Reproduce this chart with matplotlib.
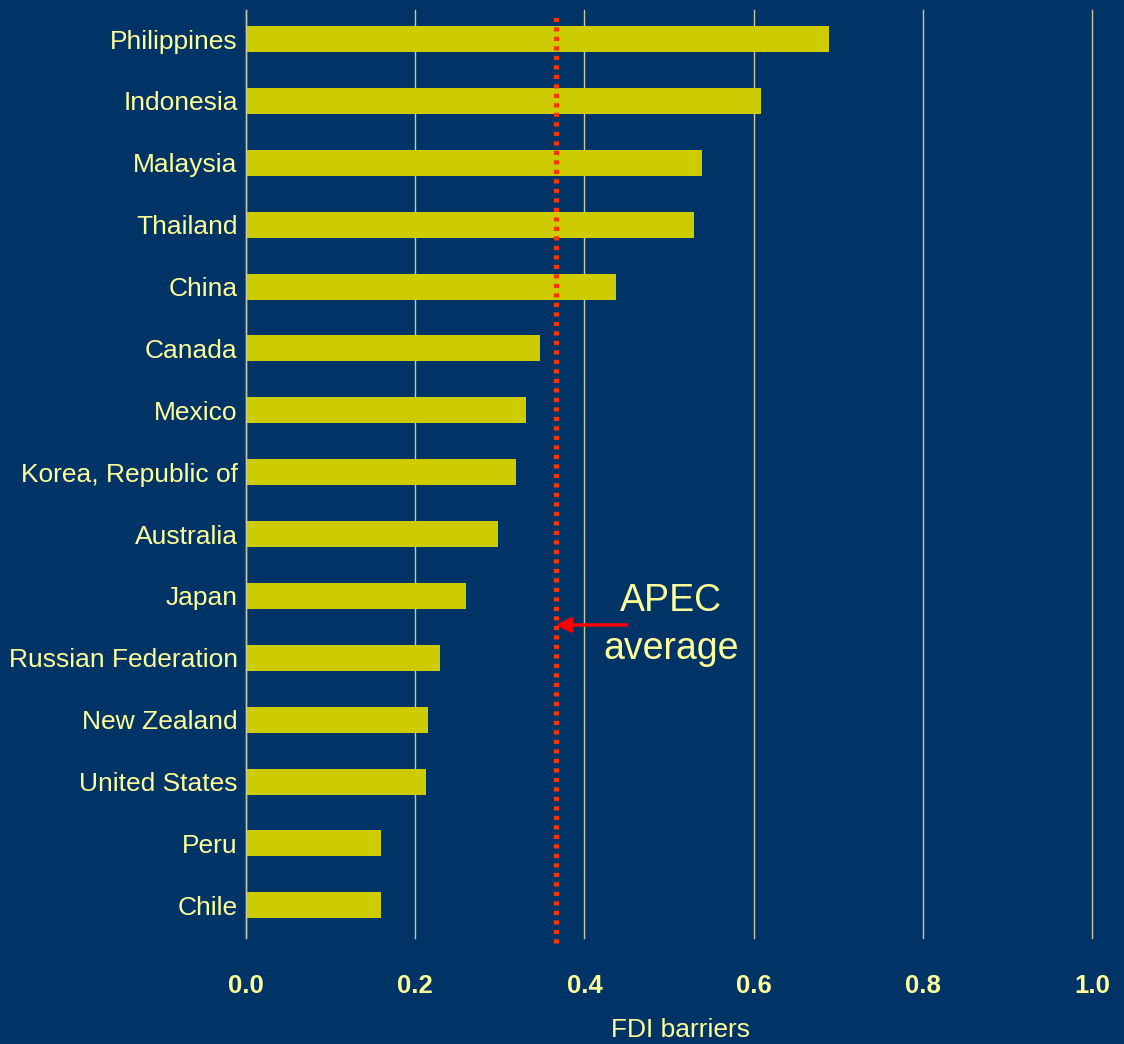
import numpy as np
import matplotlib.pyplot as plt

# FDI barrier index by APEC economy
countries = ["Philippines", "Indonesia", "Malaysia", "Thailand", "China",
             "Canada", "Mexico", "Korea, Republic of", "Australia", "Japan",
             "Russian Federation", "New Zealand", "United States", "Peru", "Chile"]
fdi_barriers = [0.689, 0.609, 0.539, 0.529, 0.437, 0.348, 0.331, 0.319,
                0.298, 0.260, 0.229, 0.215, 0.213, 0.160, 0.160]
apec_average = 0.366
xticks = [0.0, 0.2, 0.4, 0.6, 0.8, 1.0]

bg = '#003366'
bar_color = '#CCCC00'
text_color = '#FFFF99'
grid_color = '#C8C8A0'

plt.rcParams['font.family'] = ['Liberation Sans', 'DejaVu Sans']

fig = plt.figure(figsize=(11.24, 10.44), dpi=100, facecolor=bg)
ax = fig.add_axes([0.2189, 0.1015, 0.7526, 0.8889], facecolor=bg)

y = np.arange(len(countries))
ax.barh(y, fdi_barriers, height=0.42, color=bar_color, zorder=2)

ax.set_xlim(0, 1.0)
ax.set_ylim(len(countries) - 0.47, -0.47)

ax.set_xticks(xticks)
ax.set_xticklabels([f"{v:.1f}" for v in xticks], fontsize=18.5, fontweight='bold',
                   color=text_color)
ax.set_yticks(y)
ax.set_yticklabels(countries, fontsize=19, color=text_color)
ax.tick_params(axis='x', length=0, pad=26)
ax.tick_params(axis='y', length=0, pad=6)

# vertical gridlines
ax.grid(axis='x', color=grid_color, linewidth=1, zorder=1)
for gl in ax.get_xgridlines():
    gl.set_clip_on(False)
ax.set_axisbelow(True)
for s in ['top', 'right', 'bottom']:
    ax.spines[s].set_visible(False)
ax.spines['left'].set_color(grid_color)
ax.spines['left'].set_linewidth(1)

# APEC average line
avg_line = ax.axvline(apec_average, ymin=-0.005, ymax=0.998, color='#FF3300',
                      linewidth=3.8, clip_on=False, zorder=3)
avg_line.set_dashes((0.8, 1.0))
avg_line.set_dash_capstyle('butt')

ax.annotate('', xy=(apec_average, 9.47), xytext=(0.45, 9.47),
            arrowprops=dict(arrowstyle='-|>', color='#FF0000', lw=2.5,
                            mutation_scale=22, shrinkA=0, shrinkB=0), zorder=4)
ax.text(0.502, 9.47, 'APEC\naverage', fontsize=27, color=text_color,
        ha='center', va='center', linespacing=1.45, zorder=4)

ax.set_xlabel('FDI barriers', fontsize=19, color=text_color)
ax.xaxis.set_label_coords(0.513, -0.086)

fig.savefig('out.png', dpi=100, facecolor=bg)
